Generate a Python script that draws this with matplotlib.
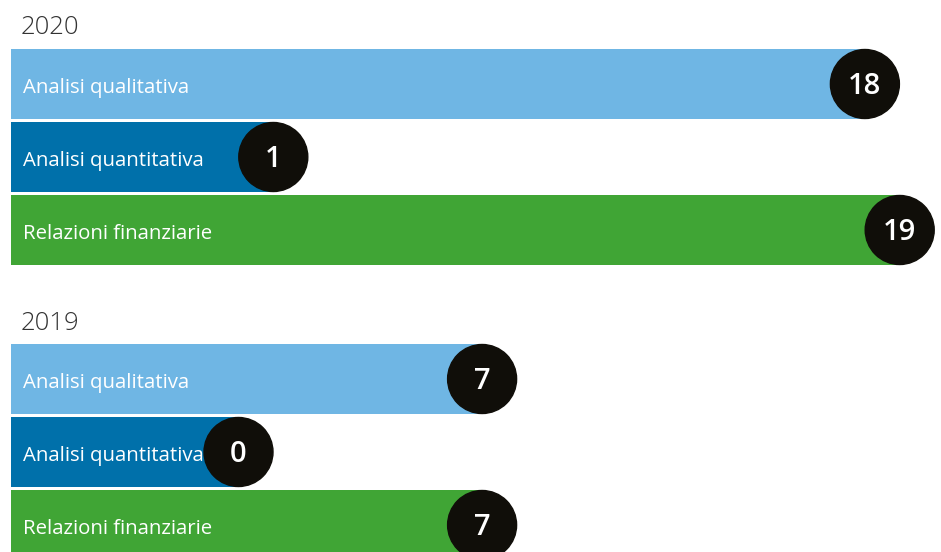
import matplotlib.pyplot as plt
from matplotlib.patches import Circle

# Documents per category, by year
years = ['2020', '2019']
categories = ['Analisi qualitativa', 'Analisi quantitativa', 'Relazioni finanziarie']
counts_2020 = [18, 1, 19]
counts_2019 = [7, 0, 7]
colors = ['#6fb6e4', '#0070aa', '#40a535']

plt.rcParams['font.family'] = ['Open Sans', 'DejaVu Sans']

fig = plt.figure(figsize=(9.41, 5.52), dpi=100)
ax = fig.add_axes([0, 0, 1, 1])
ax.set_xlim(0, 941)
ax.set_ylim(552, 0)
ax.axis('off')

# bar length: a fixed base so the label always fits, plus a step per document
base, step = 238.5, 34.8
left = 11
bar_h = 70

blocks = [(26, 84, counts_2020), (322, 379, counts_2019)]
for year, (year_y, first_y, counts) in zip(years, blocks):
    ax.text(21, year_y + 1.5, year, fontsize=18.5, fontweight='light', color='#333333',
            va='center', ha='left')
    for i, (cat, val, col) in enumerate(zip(categories, counts, colors)):
        y = first_y + i * 73
        width = base + step * val - left
        ax.barh(y, width, left=left, height=bar_h, color=col, linewidth=0)
        ax.text(23, y + 4, cat, fontsize=14.7, color='white',
                va='center', ha='left')
        cx = left + width
        ax.add_patch(Circle((cx, y), 34.5, color='#100e09', zorder=3))
        ax.text(cx, y + 2.5, str(val), fontsize=21, fontweight='semibold', color='white',
                va='center', ha='center', zorder=4)

fig.savefig('out.png', dpi=100)
